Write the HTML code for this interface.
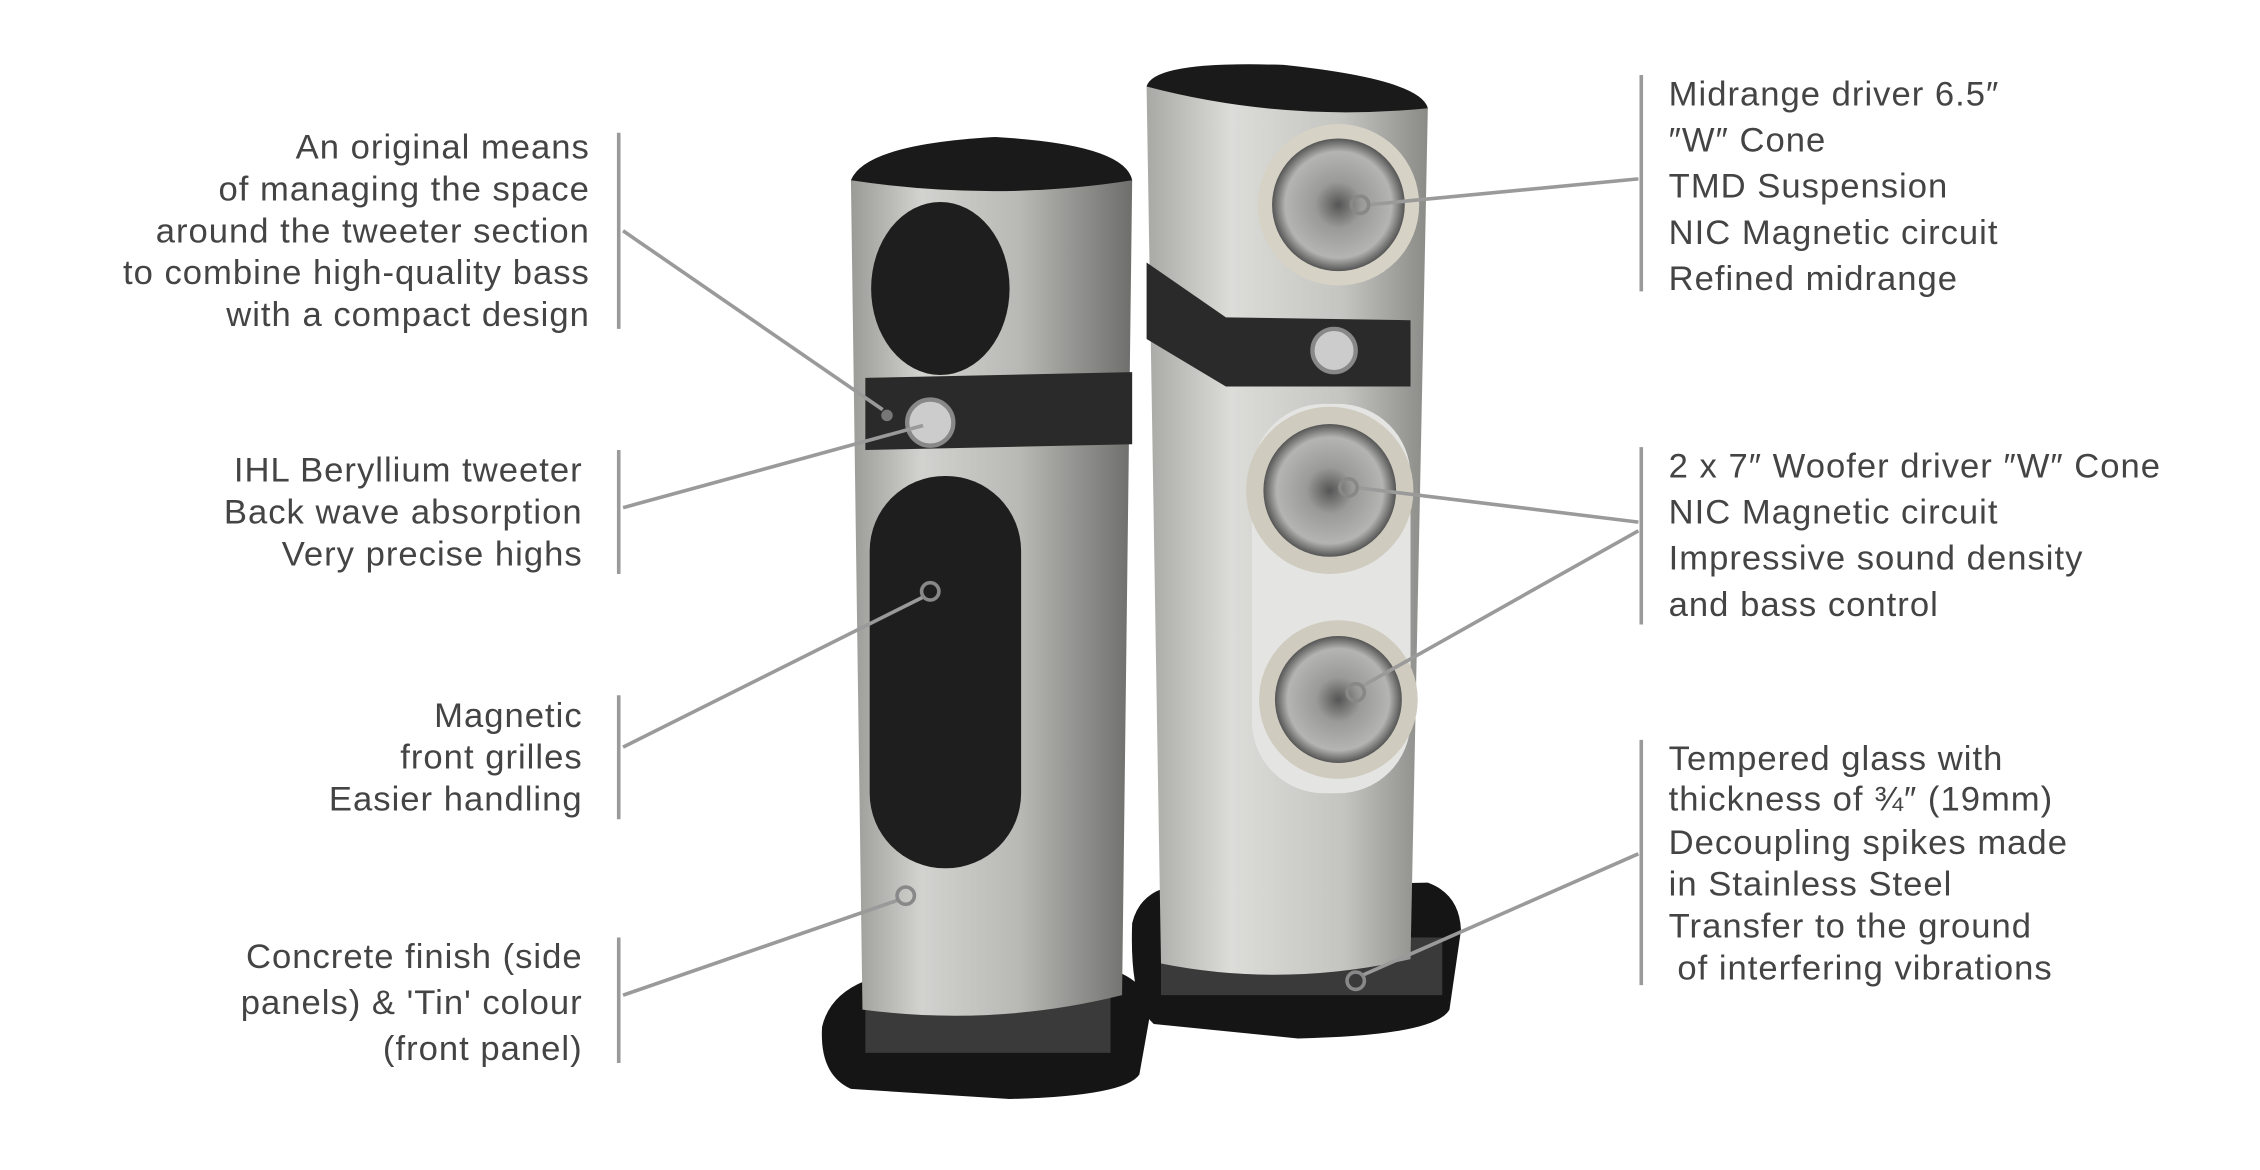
<!DOCTYPE html>
<html><head><meta charset="utf-8"><style>
html,body{margin:0;padding:0;background:#fff;}
svg{display:block;}
text{font-family:"Liberation Sans",sans-serif;fill:#444;font-size:24px;letter-spacing:0.7px;}
</style></head><body>
<svg width="2260" height="1170" viewBox="0 0 1567 811.2" xmlns="http://www.w3.org/2000/svg">
<defs>
<linearGradient id="g1" x1="0" x2="1"><stop offset="0" stop-color="#9a9a96"/><stop offset=".25" stop-color="#d2d2cf"/><stop offset=".6" stop-color="#b8b8b4"/><stop offset="1" stop-color="#6e6e6c"/></linearGradient>
<linearGradient id="g2" x1="0" x2="1"><stop offset="0" stop-color="#a8a8a4"/><stop offset=".3" stop-color="#dcdcd9"/><stop offset=".7" stop-color="#c4c4c0"/><stop offset="1" stop-color="#8a8a86"/></linearGradient>
<radialGradient id="cone"><stop offset="0" stop-color="#555"/><stop offset=".35" stop-color="#9a9a98"/><stop offset=".8" stop-color="#b4b4b2"/><stop offset="1" stop-color="#555"/></radialGradient>
</defs>
<!-- left speaker -->
<path d="M570,712 Q575,690 600,680 L770,672 Q795,680 798,700 L790,745 Q780,760 700,762 L590,755 Q568,745 570,712 Z" fill="#151515"/>
<rect x="600" y="690" width="170" height="40" fill="#3a3a3a"/>
<path d="M590,125 Q600,100 690,95 Q780,100 785,125 L778,690 Q690,712 598,700 Z" fill="url(#g1)"/>
<path d="M590,125 Q600,100 690,95 Q780,100 785,125 Q690,140 590,125 Z" fill="#1a1a1a"/>
<ellipse cx="652" cy="200" rx="48" ry="60" fill="#1e1e1e"/>
<path d="M600,262 L785,258 L785,308 L600,312 Z" fill="#2a2a2a"/>
<circle cx="645" cy="293" r="16" fill="#ccc" stroke="#888" stroke-width="3"/>
<circle cx="615" cy="288" r="4" fill="#777"/>
<rect x="603" y="330" width="105" height="272" rx="52" fill="#1e1e1e"/>
<!-- right speaker -->
<path d="M785,640 Q790,620 810,615 L990,612 Q1012,620 1013,645 L1005,700 Q995,718 900,720 L800,710 Q783,695 785,640 Z" fill="#151515"/>
<rect x="805" y="650" width="195" height="40" fill="#3a3a3a"/>
<path d="M795,60 Q800,42 890,45 Q985,55 990,75 L978,665 Q890,685 805,668 Z" fill="url(#g2)"/>
<path d="M795,60 Q800,42 890,45 Q985,55 990,75 Q890,85 795,60 Z" fill="#1a1a1a"/>
<path d="M795,182 L850,220 L978,222 L978,268 L850,268 L795,235 Z" fill="#2a2a2a"/>
<circle cx="928" cy="142" r="56" fill="#d6d2c6"/><circle cx="928" cy="142" r="46" fill="url(#cone)"/>
<circle cx="925" cy="243" r="15" fill="#ccc" stroke="#888" stroke-width="3"/>
<rect x="868" y="280" width="110" height="270" rx="50" fill="#e4e4e2"/>
<circle cx="922" cy="340" r="58" fill="#cfcbbf"/><circle cx="922" cy="340" r="46" fill="url(#cone)"/>
<circle cx="928" cy="485" r="55" fill="#cfcbbf"/><circle cx="928" cy="485" r="44" fill="url(#cone)"/>
<!-- connectors -->
<g stroke="#9a9a9a" stroke-width="2.5" fill="none">
<line x1="429" y1="92" x2="429" y2="228"/><line x1="429" y1="312" x2="429" y2="398"/>
<line x1="429" y1="482" x2="429" y2="568"/><line x1="429" y1="650" x2="429" y2="737"/>
<line x1="1138" y1="52" x2="1138" y2="202"/><line x1="1138" y1="310" x2="1138" y2="433"/>
<line x1="1138" y1="513" x2="1138" y2="683"/>
<line x1="432" y1="160" x2="612" y2="284"/>
<line x1="432" y1="352" x2="640" y2="295"/>
<line x1="432" y1="518" x2="640" y2="414"/>
<line x1="432" y1="690" x2="623" y2="624"/>
<line x1="1136" y1="124" x2="948" y2="142"/>
<line x1="1136" y1="362" x2="940" y2="338"/>
<line x1="1136" y1="368" x2="944" y2="476"/>
<line x1="1136" y1="592" x2="945" y2="676"/>
<circle cx="645" cy="410" r="6" stroke="#888"/><circle cx="628" cy="621" r="6" stroke="#888"/>
<circle cx="943" cy="142" r="6" stroke="#888"/><circle cx="935" cy="338" r="6" stroke="#888"/>
<circle cx="940" cy="480" r="6" stroke="#888"/><circle cx="940" cy="680" r="6" stroke="#888"/>
</g>
<!-- left text -->
<g text-anchor="end">
<text x="409" y="110">An original means</text>
<text x="409" y="139">of managing the space</text>
<text x="409" y="168">around the tweeter section</text>
<text x="409" y="197">to combine high-quality bass</text>
<text x="409" y="226">with a compact design</text>
<text x="404" y="334">IHL Beryllium tweeter</text>
<text x="404" y="363">Back wave absorption</text>
<text x="404" y="392">Very precise highs</text>
<text x="404" y="504">Magnetic</text>
<text x="404" y="533">front grilles</text>
<text x="404" y="562">Easier handling</text>
<text x="404" y="671">Concrete finish (side</text>
<text x="404" y="703">panels) &amp; 'Tin' colour</text>
<text x="404" y="735">(front panel)</text>
</g>
<!-- right text -->
<g>
<text x="1157" y="73">Midrange driver 6.5″</text>
<text x="1157" y="105">″W″ Cone</text>
<text x="1157" y="137">TMD Suspension</text>
<text x="1157" y="169">NIC Magnetic circuit</text>
<text x="1157" y="201">Refined midrange</text>
<text x="1157" y="331">2 x 7″ Woofer driver ″W″ Cone</text>
<text x="1157" y="363">NIC Magnetic circuit</text>
<text x="1157" y="395">Impressive sound density</text>
<text x="1157" y="427">and bass control</text>
<text x="1157" y="534">Tempered glass with</text>
<text x="1157" y="562">thickness of ¾″ (19mm)</text>
<text x="1157" y="592">Decoupling spikes made</text>
<text x="1157" y="621">in Stainless Steel</text>
<text x="1157" y="650">Transfer to the ground</text>
<text x="1163" y="679">of interfering vibrations</text>
</g>
</svg>
</body></html>
